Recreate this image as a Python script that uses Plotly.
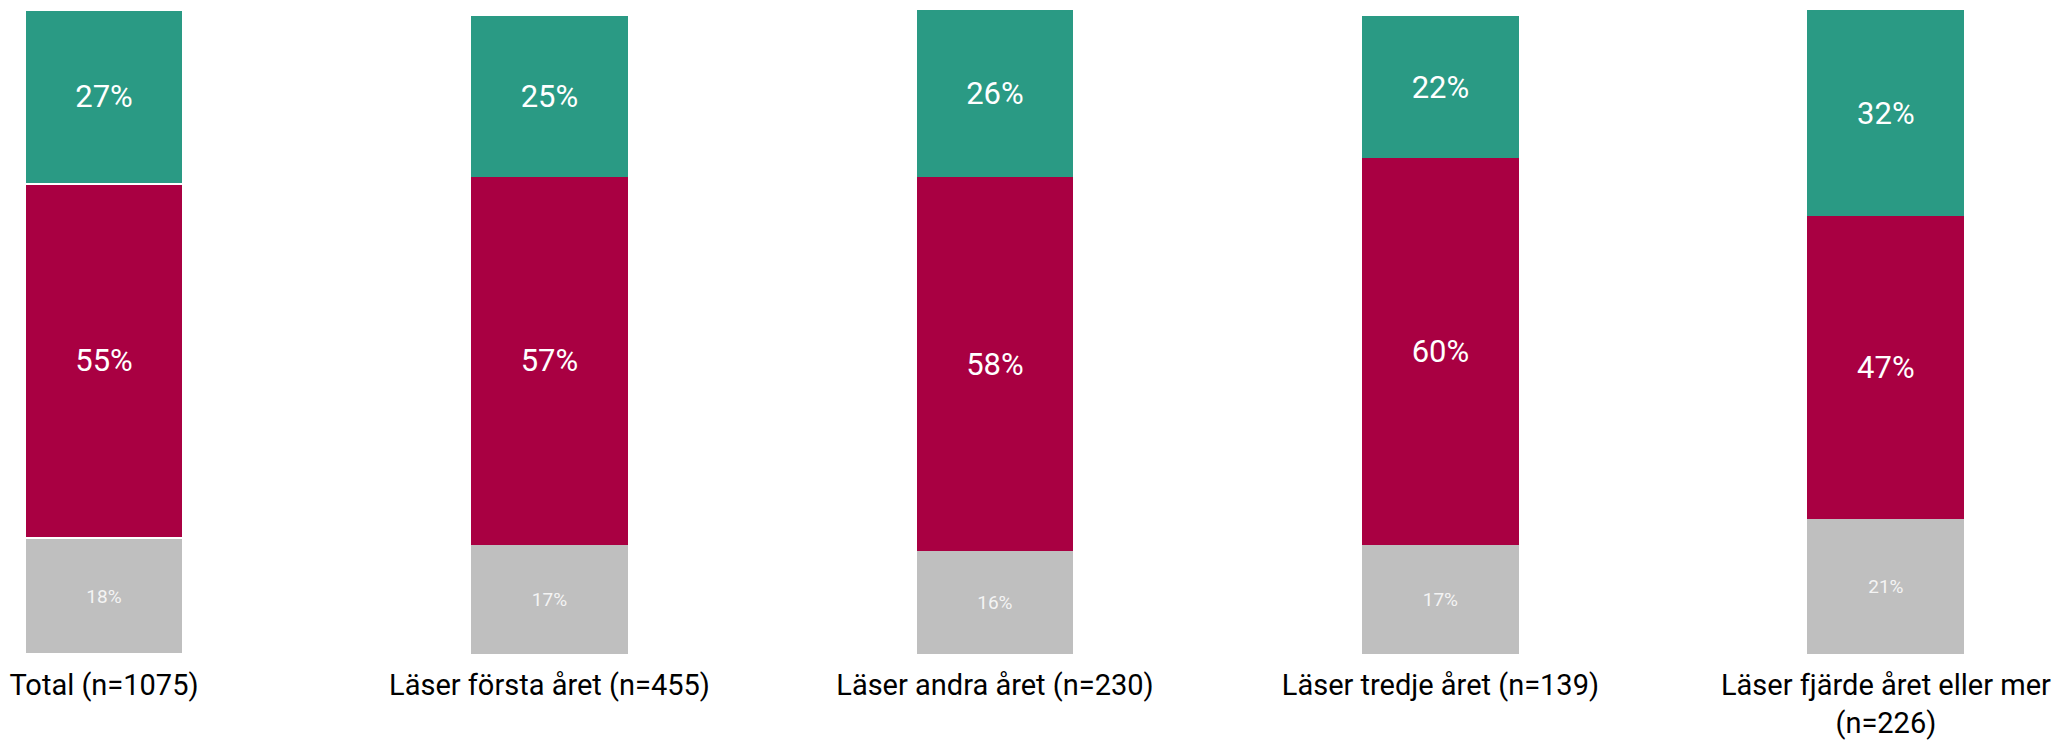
import plotly.graph_objects as go

categories = ["Total (n=1075)", "Läser första året (n=455)", "Läser andra året (n=230)",
              "Läser tredje året (n=139)", "Läser fjärde året eller mer<br>(n=226)"]
gray_vals = [18, 17, 16, 17, 21]
red_vals = [55, 57, 58, 60, 47]
green_vals = [27, 25, 26, 22, 32]

x = list(range(len(categories)))
line_w = [1.5, 0, 0, 0, 0]

fig = go.Figure()
fig.add_bar(x=x, y=gray_vals, marker=dict(color="#BFBFBF", line=dict(color="white", width=line_w)),
            text=[f"{v}%" for v in gray_vals], textposition="inside", insidetextanchor="middle",
            textfont=dict(family="Roboto", size=19, color="#F4F4F4"), width=0.352)
fig.add_bar(x=x, y=red_vals, marker=dict(color="#A90042", line=dict(color="white", width=line_w)),
            text=[f"{v}%" for v in red_vals], textposition="inside", insidetextanchor="middle",
            textfont=dict(family="Roboto", size=31, color="white"), width=0.352)
fig.add_bar(x=x, y=green_vals, marker=dict(color="#2A9A84", line=dict(color="white", width=line_w)),
            text=[f"{v}%" for v in green_vals], textposition="inside", insidetextanchor="middle",
            textfont=dict(family="Roboto", size=31, color="white"), width=0.352)

fig.update_layout(
    barmode="stack", width=2069, height=742,
    margin=dict(l=0, r=0, t=2, b=96),
    plot_bgcolor="white", paper_bgcolor="white", showlegend=False,
    uniformtext=dict(mode=False),
)
fig.update_xaxes(tickmode="array", tickvals=x, ticktext=categories, range=[-0.2155, 4.429],
                 showgrid=False, zeroline=False, showline=False, ticks="", ticklabelstandoff=11,
                 tickfont=dict(family="Roboto", size=29, color="black"))
fig.update_yaxes(range=[0, 100], visible=False)

fig.write_html("out.html")
